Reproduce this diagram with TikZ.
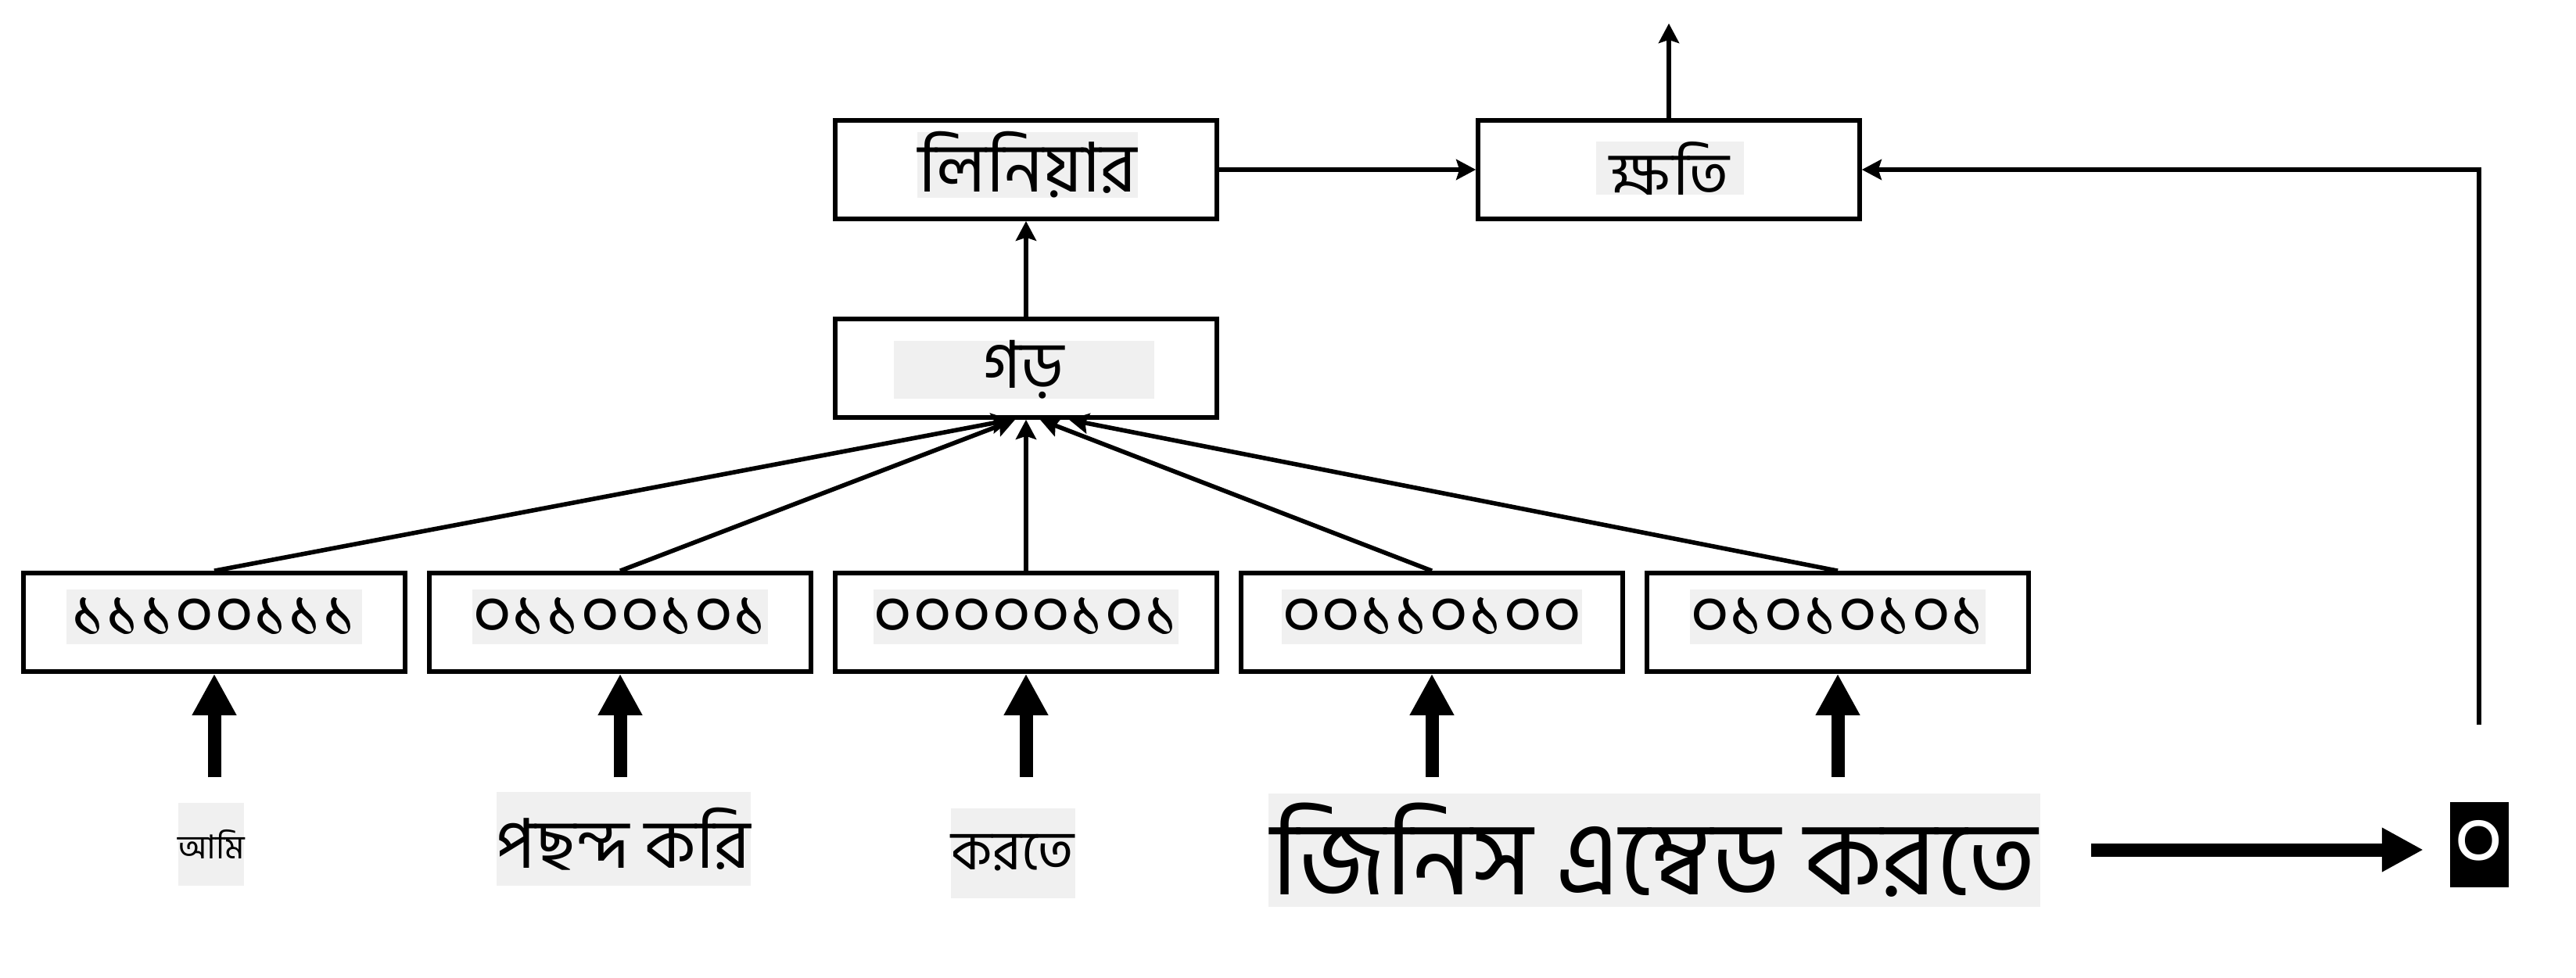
\documentclass[tikz,border=0pt]{standalone}
\usepackage{fontspec}
\newfontfamily\bangla[Script=Bengali]{Hind Siliguri}
\usepackage{tikz}
\usetikzlibrary{arrows.meta}
\definecolor{tagbg}{RGB}{240,240,240}

\tikzset{
  block/.style={draw, line width=1.6pt, minimum width=4.88cm, minimum height=1.26cm},
  tag/.style={fill=tagbg, inner sep=0pt},
  bits/.style={tag, minimum width=3.78cm, minimum height=0.7cm, font=\bangla\fontsize{25}{29}\selectfont},
  wire/.style={line width=1.6pt, -{Stealth[length=0.25cm, width=0.26cm, inset=0.04cm]}},
  fat/.style={line width=0.17cm, -{Triangle[length=0.53cm, width=0.53cm]}},
}

\begin{document}
\begin{tikzpicture}[font=\bangla]
          \useasboundingbox (0, 0) rectangle (32.94, -12.50);
          \node [block] (lin) at (13.12, -2.17) {};
          \node [tag, minimum width=2.82cm, minimum height=0.74cm, font=\bangla\fontsize{25}{28}\selectfont] (lint) at (13.14, -2.11) {লিনিয়ার};
          \node [block] (loss) at (21.34, -2.17) {};
          \node [tag, minimum width=1.89cm, minimum height=0.61cm, font=\bangla\fontsize{22}{26}\selectfont] (losst) at (21.35, -2.15) {ক্ষতি};
          \node [block] (mean) at (13.12, -4.71) {};
          \node [tag, minimum width=3.33cm, minimum height=0.67cm, font=\bangla\fontsize{24}{28}\selectfont] (meant) at (13.09, -4.73) {গড়};
          \coordinate (top) at (21.34, -0.30);
          \node [block] (c1) at (2.74, -7.96) {};
          \node [bits] (t1) at (2.74, -7.89) {১১১০০১১১};
          \node [block] (c2) at (7.93, -7.96) {};
          \node [bits] (t2) at (7.93, -7.89) {০১১০০১০১};
          \node [block] (c3) at (13.12, -7.96) {};
          \node [bits] (t3) at (13.12, -7.89) {০০০০০১০১};
          \node [block] (c4) at (18.31, -7.96) {};
          \node [bits] (t4) at (18.31, -7.89) {০০১১০১০০};
          \node [block] (c5) at (23.50, -7.96) {};
          \node [bits] (t5) at (23.50, -7.89) {০১০১০১০১};
          \node [tag, minimum width=0.70cm, minimum height=1.06cm, font=\bangla\fontsize{12}{14}\selectfont] (w1) at (2.70, -10.80) {আমি};
          \node [tag, minimum width=3.25cm, minimum height=1.20cm, font=\bangla\fontsize{25}{30}\selectfont] (w2) at (7.97, -10.73) {পছন্দ করি};
          \node [tag, minimum width=1.59cm, minimum height=1.15cm, font=\bangla\fontsize{20}{24}\selectfont] (w3) at (12.95, -10.91) {করতে};
          \node [tag, minimum width=9.87cm, minimum height=1.45cm, font=\bangla\fontsize{38}{44}\selectfont] (w4) at (21.15, -10.87) {জিনিস এম্বেড করতে};
          \node [fill=black, text=white, inner sep=0pt, minimum width=0.75cm, minimum height=1.09cm, font=\bangla\fontsize{32}{36}\selectfont] (zero) at (31.70, -10.80) {০};
          \draw [wire] (mean) -- (lin);
          \draw [wire] (lin) -- (loss);
          \draw [wire] (loss) -- (top);
          \draw [wire, shorten <=0.98cm] (zero.north) |- (loss.east);
          \draw [wire] (c1.north) -- ([xshift=-0.19cm]mean.south);
          \draw [wire] (c2.north) -- ([xshift=-0.14cm]mean.south);
          \draw [wire] (c3) -- (mean);
          \draw [wire] (c4.north) -- ([xshift=0.18cm]mean.south);
          \draw [wire] (c5.north) -- ([xshift=0.55cm]mean.south);
          \draw [fat, shorten <=0.32cm] (w1.north -| c1) -- (c1);
          \draw [fat, shorten <=0.18cm] (w2.north -| c2) -- (c2);
          \draw [fat, shorten <=0.39cm] (w3.north -| c3) -- (c3);
          \draw [fat, shorten <=0.20cm] (w4.north -| c4) -- (c4);
          \draw [fat, shorten <=0.20cm] (w4.north -| c5) -- (c5);
          \draw [fat, shorten <=0.65cm, shorten >=0.33cm] (w4.east) -- (w4.east -| zero.west);
        \end{tikzpicture}
\end{document}
